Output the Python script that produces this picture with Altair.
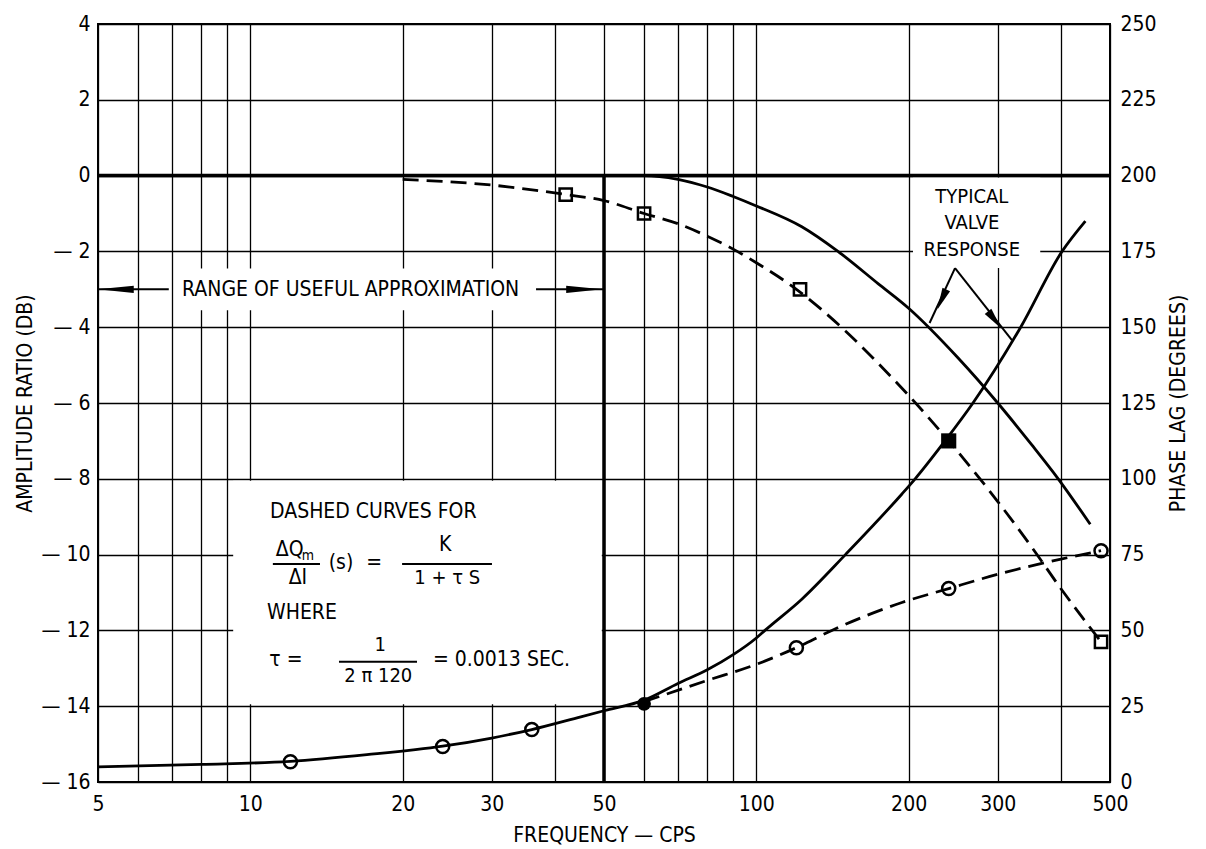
import altair as alt
import pandas as pd

FONT = "Liberation Sans Narrow, DejaVu Sans Condensed, Arial Narrow, Liberation Sans, sans-serif"

# ---------------- data ----------------
# amplitude, typical valve response (solid)
amp_solid_f = [5, 20, 40, 60, 70, 80, 90, 100, 123, 145, 174, 200, 250, 300, 350, 395, 457]
amp_solid_db = [0, 0, 0, 0, -0.1, -0.3, -0.55, -0.8, -1.35, -2.0, -2.85, -3.5, -4.8, -6.0, -7.1, -8.0, -9.2]

# amplitude, first-order approximation (dashed)
amp_dash_f = [20, 30, 42, 50, 60, 70, 80, 90, 100, 120, 150, 174, 200, 240, 300, 350, 400, 480]
amp_dash_db = [-0.1, -0.25, -0.5, -0.66, -1.0, -1.27, -1.6, -1.94, -2.3, -3.0, -4.1, -4.95, -5.8, -7.0, -8.6, -9.8, -10.9, -12.3]

# square markers on the dashed amplitude curve
sq_f = [42, 60, 122, 240, 480]
sq_db = [-0.5, -1.0, -3.0, -7.0, -12.3]
sq_filled = [False, False, False, True, False]

# phase lag, typical valve response (solid)
ph_solid_f = [5, 8, 12, 17, 24, 30, 36, 45, 50, 60, 70, 80, 90, 100, 104, 123, 150, 194, 206, 236, 268, 333, 402, 447]
ph_solid_deg = [5, 5.8, 6.8, 9, 11.8, 14.5, 17.3, 21.5, 23.5, 27, 32.5, 37, 42, 47.5, 50, 60.3, 75, 95, 100, 112.5, 125, 150, 175, 185]

# phase lag, first-order approximation (dashed)
ph_dash_f = [60, 80, 100, 120, 141, 194, 240, 300, 400, 480]
ph_dash_deg = [26.5, 33.5, 38.8, 44.3, 50, 59.2, 63.8, 68.5, 73.5, 76.3]

# circle markers on the phase curves
ci_f = [12, 24, 36, 60, 120, 240, 480]
ci_deg = [6.7, 11.7, 17.3, 25.8, 44.3, 63.8, 76.3]
ci_filled = [False, False, False, True, False, False, False]

# axes
x_grid = [5, 6, 7, 8, 9, 10, 20, 30, 40, 50, 60, 70, 80, 90, 100, 200, 300, 400, 500]
x_labels = [5, 10, 20, 30, 50, 100, 200, 300, 500]
y_ticks = [-16, -14, -12, -10, -8, -6, -4, -2, 0, 2, 4]
p_ticks = [0, 25, 50, 75, 100, 125, 150, 175, 200, 225, 250]

# annotations (data coordinates: frequency, dB)
txt_left = ["RANGE OF USEFUL APPROXIMATION", "DASHED CURVES FOR", "WHERE", "τ  =", "= 0.0013 SEC."]
txt_left_f = [7.33, 10.94, 10.79, 10.9, 22.96]
txt_left_db = [-3.02, -8.88, -11.54, -12.78, -12.78]

txt_center = ["ΔQ", "m", "ΔI", "(s)", "=", "K", "1 + τ S", "1", "2 π 120", "TYPICAL", "VALVE", "RESPONSE"]
txt_center_f = [11.96, 13.0, 12.42, 15.11, 17.56, 24.26, 24.5, 18.05, 17.9, 266.7, 266.7, 266.7]
txt_center_db = [-9.88, -10.05, -10.62, -10.22, -10.22, -9.75, -10.62, -12.39, -13.2, -0.56, -1.26, -1.96]
txt_center_fs = [21, 14, 21, 21, 21, 21, 20, 20, 20, 20, 20, 20]

line_f = [5, 50, 11.08, 19.95, 14.97, 5, 36.7, 247, 247]
line_f2 = [500, 50, 13.73, 30.03, 21.35, 6.9, 50, 220, 320]
line_db = [0, -16, -10.25, -10.25, -12.83, -3.0, -3.0, -2.44, -2.44]
line_db2 = [0, 0, -10.25, -10.25, -12.83, -3.0, -3.0, -3.89, -4.34]
line_w = [3.5, 3.5, 2, 2, 2, 2, 2, 2, 2]

head_f = [5.42, 45.7, 232.6, 296]
head_db = [-3.0, -3.0, -3.27, -3.81]
head_ang = [270, 90, 204, 142]
head_sz = [1300, 1300, 480, 480]
head_shape = ["M0,-1L0.2,1L-0.2,1Z", "M0,-1L0.2,1L-0.2,1Z", "M0,-1L0.38,1L-0.38,1Z", "M0,-1L0.38,1L-0.38,1Z"]

box_f = [7.2, 9.25, 204]
box_f2 = [36.5, 49.5, 364]
box_db = [-2.45, -8.05, -0.05]
box_db2 = [-3.55, -13.95, -2.44]

# ---------------- tables ----------------
df_amp_solid = pd.DataFrame({"f": amp_solid_f, "db": amp_solid_db})
df_amp_dash = pd.DataFrame({"f": amp_dash_f, "db": amp_dash_db})
df_sq = pd.DataFrame({"f": sq_f, "db": sq_db, "filled": sq_filled})
df_ph_solid = pd.DataFrame({"f": ph_solid_f, "deg": ph_solid_deg})
df_ph_dash = pd.DataFrame({"f": ph_dash_f, "deg": ph_dash_deg})
df_ci = pd.DataFrame({"f": ci_f, "deg": ci_deg, "filled": ci_filled})
df_tl = pd.DataFrame({"f": txt_left_f, "db": txt_left_db, "text": txt_left})
df_tc = pd.DataFrame({"f": txt_center_f, "db": txt_center_db, "text": txt_center, "fs": txt_center_fs})
df_lines = pd.DataFrame({"f": line_f, "f2": line_f2, "db": line_db, "db2": line_db2, "w": line_w})
df_heads = pd.DataFrame({"f": head_f, "db": head_db, "ang": head_ang, "sz": head_sz, "shp": head_shape})
df_box = pd.DataFrame({"f": box_f, "f2": box_f2, "db": box_db, "db2": box_db2})

# ---------------- scales & axes ----------------
xscale = alt.Scale(type="log", domain=[5, 500], nice=False)
yscale = alt.Scale(domain=[-16, 4], nice=False, zero=False)
pscale = alt.Scale(domain=[0, 250], nice=False, zero=False)

common_axis = dict(
    gridColor="black", gridWidth=1.3, gridOpacity=1, domain=False, ticks=False,
    labelFont=FONT, labelFontSize=21, labelColor="black", labelOverlap=False, labelFlush=False,
    titleFont=FONT, titleFontSize=21, titleFontWeight="normal", titleColor="black",
)

xaxis = alt.Axis(
    values=x_grid, grid=True, orient="bottom", title="FREQUENCY — CPS",
    labelExpr="indexof(" + str(x_labels) + ", datum.value) >= 0 ? '' + datum.value : ''",
    labelPadding=11, titlePadding=10, **common_axis,
)
yaxis = alt.Axis(
    values=y_ticks, grid=True, orient="left", title="AMPLITUDE RATIO (DB)",
    labelExpr="datum.value < 0 ? '— ' + abs(datum.value) : '' + datum.value",
    labelPadding=8, titlePadding=6, **common_axis,
)
paxis = alt.Axis(
    values=p_ticks, grid=False, orient="right", title="PHASE LAG (DEGREES)",
    labelPadding=10, titlePadding=32, titleAngle=270, **common_axis,
)

X = alt.X("f:Q", scale=xscale, axis=xaxis)
Y = alt.Y("db:Q", scale=yscale, axis=yaxis)
P = alt.Y("deg:Q", scale=pscale, axis=paxis)

# ---------------- amplitude group ----------------
boxes = alt.Chart(df_box).mark_rect(color="white", opacity=1).encode(
    x=X, x2="f2:Q", y=Y, y2="db2:Q"
)
lines = alt.Chart(df_lines).mark_rule(color="black").encode(
    x=X, x2="f2:Q", y=Y, y2="db2:Q", strokeWidth=alt.StrokeWidth("w:Q", scale=None)
)
amp_solid = alt.Chart(df_amp_solid).mark_line(color="black", strokeWidth=2.8, interpolate="monotone").encode(x=X, y=Y)
amp_dash = alt.Chart(df_amp_dash).mark_line(color="black", strokeWidth=2.8, strokeDash=[16, 8], interpolate="monotone").encode(x=X, y=Y)
sq_open = alt.Chart(df_sq).transform_filter("!datum.filled").mark_point(
    shape="square", filled=False, color="black", strokeWidth=2.5, size=150, opacity=1
).encode(x=X, y=Y)
sq_full = alt.Chart(df_sq).transform_filter("datum.filled").mark_point(
    shape="square", filled=True, color="black", size=230, opacity=1
).encode(x=X, y=Y)
heads = alt.Chart(df_heads).mark_point(filled=True, color="black", opacity=1).encode(
    x=X, y=Y,
    angle=alt.Angle("ang:Q", scale=None),
    size=alt.Size("sz:Q", scale=None),
    shape=alt.Shape("shp:N", scale=None),
)
t_left = alt.Chart(df_tl).mark_text(
    align="left", baseline="middle", font=FONT, fontSize=21, color="black"
).encode(x=X, y=Y, text="text:N")
t_center = alt.Chart(df_tc).mark_text(
    align="center", baseline="middle", font=FONT, color="black"
).encode(x=X, y=Y, text="text:N", size=alt.Size("fs:Q", scale=None))

amp_group = alt.layer(boxes, lines, amp_solid, amp_dash, sq_open, sq_full, heads, t_left, t_center)

# ---------------- phase group ----------------
ph_solid = alt.Chart(df_ph_solid).mark_line(color="black", strokeWidth=2.8, interpolate="monotone").encode(x=X, y=P)
ph_dash = alt.Chart(df_ph_dash).mark_line(color="black", strokeWidth=2.8, strokeDash=[16, 8], interpolate="monotone").encode(x=X, y=P)
ci_open = alt.Chart(df_ci).transform_filter("!datum.filled").mark_point(
    shape="circle", filled=False, color="black", strokeWidth=2.5, size=170, opacity=1
).encode(x=X, y=P)
ci_full = alt.Chart(df_ci).transform_filter("datum.filled").mark_point(
    shape="circle", filled=True, color="black", size=190, opacity=1
).encode(x=X, y=P)

phase_group = alt.layer(ph_solid, ph_dash, ci_open, ci_full)

chart = (
    alt.layer(amp_group, phase_group)
    .resolve_scale(y="independent")
    .properties(
        width=1012, height=758,
        autosize=alt.AutoSizeParams(type="none"),
        padding={"left": 90, "top": 16, "right": 88, "bottom": 66},
        background="white",
    )
    .configure_view(stroke="black", strokeWidth=2)
)

chart.save("out.html", embed_options={"renderer": "svg", "actions": False})
